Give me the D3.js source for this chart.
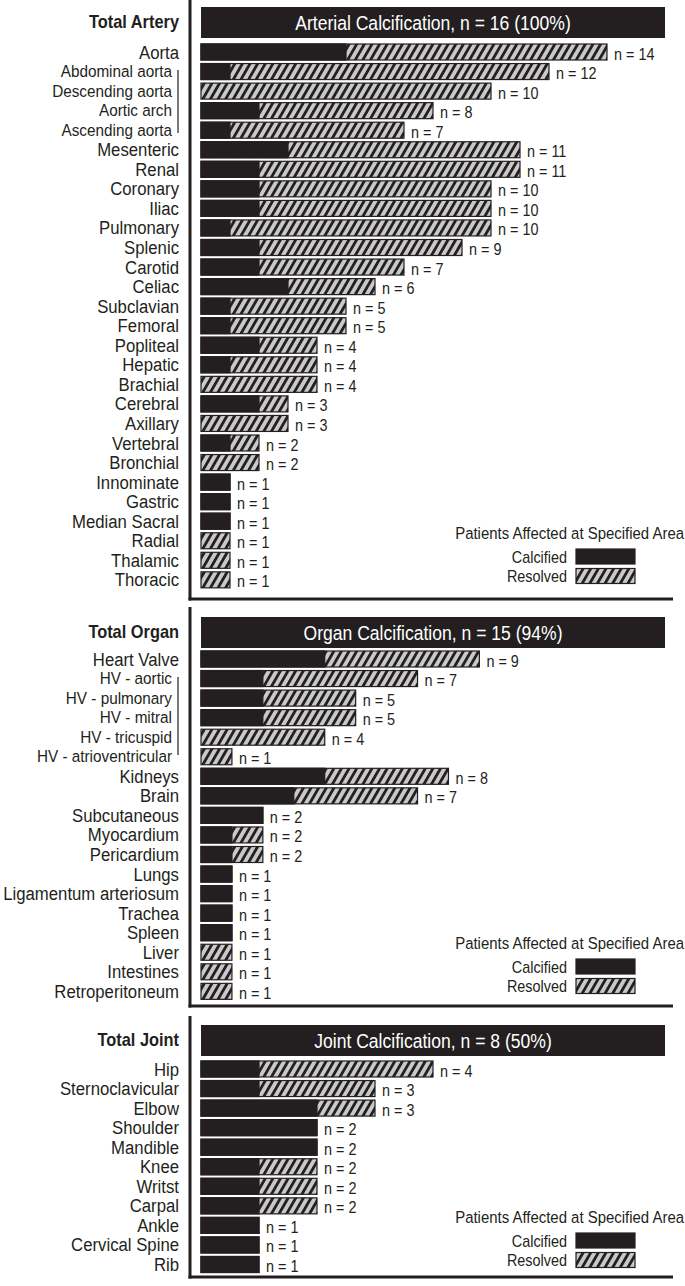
<!DOCTYPE html>
<html>
<head>
<meta charset="utf-8">
<script src="https://cdn.jsdelivr.net/npm/d3@7"></script>
<style>
    body { margin: 0; background: #fff; }
    text { font-family: "Liberation Sans", Arial, Helvetica, sans-serif; fill: #231f20; }
</style>
</head>
<body>
<div id="chart"></div>
<script>
// artery data
var arteryNames = ["Aorta", "Abdominal aorta", "Descending aorta", "Aortic arch", "Ascending aorta",
    "Mesenteric", "Renal", "Coronary", "Iliac", "Pulmonary", "Splenic", "Carotid", "Celiac",
    "Subclavian", "Femoral", "Popliteal", "Hepatic", "Brachial", "Cerebral", "Axillary",
    "Vertebral", "Bronchial", "Innominate", "Gastric", "Median Sacral", "Radial", "Thalamic", "Thoracic"];
var arteryCalcified = [5, 1, 0, 2, 1, 3, 2, 2, 2, 1, 2, 2, 3, 1, 1, 2, 1, 0, 2, 0, 1, 0, 1, 1, 1, 0, 0, 0];
var arteryResolved  = [9, 11, 10, 6, 6, 8, 9, 8, 8, 9, 7, 5, 3, 4, 4, 2, 3, 4, 1, 3, 1, 2, 0, 0, 0, 1, 1, 1];
var arterySub = ["Abdominal aorta", "Descending aorta", "Aortic arch", "Ascending aorta"];

// organ data
var organNames = ["Heart Valve", "HV - aortic", "HV - pulmonary", "HV - mitral", "HV - tricuspid",
    "HV - atrioventricular", "Kidneys", "Brain", "Subcutaneous", "Myocardium", "Pericardium", "Lungs",
    "Ligamentum arteriosum", "Trachea", "Spleen", "Liver", "Intestines", "Retroperitoneum"];
var organCalcified = [4, 2, 2, 2, 0, 0, 4, 3, 2, 1, 1, 1, 1, 1, 1, 0, 0, 0];
var organResolved  = [5, 5, 3, 3, 4, 1, 4, 4, 0, 1, 1, 0, 0, 0, 0, 1, 1, 1];
var organSub = ["HV - aortic", "HV - pulmonary", "HV - mitral", "HV - tricuspid", "HV - atrioventricular"];

// joint data
var jointNames = ["Hip", "Sternoclavicular", "Elbow", "Shoulder", "Mandible", "Knee", "Writst",
    "Carpal", "Ankle", "Cervical Spine", "Rib"];
var jointCalcified = [1, 1, 2, 2, 2, 1, 1, 1, 1, 1, 1];
var jointResolved  = [3, 2, 1, 0, 0, 1, 1, 1, 0, 0, 0];

// section totals
var sectionTitles = ["Total Artery", "Total Organ", "Total Joint"];
var sectionHeaders = ["Arterial Calcification, n = 16 (100%)", "Organ Calcification, n = 15 (94%)", "Joint Calcification, n = 8 (50%)"];
var sectionTotals = [16, 15, 8];

var legendTitle = "Patients Affected at Specified Area";
var legendKeys = ["Calcified", "Resolved"];

var width = 685, height = 1286;
var dark = "#231f20", light = "#c9c9c9";
var x0 = 201, x1 = 665;
var step = 19.55, barH = 16;
var squeeze = 0.9;   // the original type is a bit condensed

var svg = d3.select("#chart")
    .append("svg")
    .attr("width", width)
    .attr("height", height);

// hatch pattern for resolved
var pat = svg.append("defs")
    .append("pattern")
    .attr("id", "hatch")
    .attr("patternUnits", "userSpaceOnUse")
    .attr("width", 6.6)
    .attr("height", 20)
    .attr("patternTransform", "rotate(30)");
pat.append("rect").attr("width", 6.6).attr("height", 20).attr("fill", light);
pat.append("rect").attr("width", 2.8).attr("height", 20).attr("fill", dark);

// condensed text helper
function label(sel, x, y, size) {
    return sel.append("text")
        .attr("transform", "translate(" + x + "," + y + ") scale(" + squeeze + ",1)")
        .style("font-size", size + "px");
}

// layout of each panel
var sections = [
    {names: arteryNames, calc: arteryCalcified, res: arteryResolved, sub: arterySub,
        top: 0, bottom: 599, header: 7, first: 52, bracket: [70, 133], legend: 533},
    {names: organNames, calc: organCalcified, res: organResolved, sub: organSub,
        top: 607, bottom: 1006, header: 617, first: 659, bracket: [677, 755], legend: 943},
    {names: jointNames, calc: jointCalcified, res: jointResolved, sub: [],
        top: 1016, bottom: 1277, header: 1025, first: 1069, bracket: null, legend: 1217}
];

sections.forEach(function(s, k) {
    var g = svg.append("g");
    var x = d3.scaleLinear().domain([0, sectionTotals[k]]).range([x0, x1]);
    var y = d3.scaleLinear().domain([0, s.names.length - 1])
        .range([s.first, s.first + step * (s.names.length - 1)]);

    // frame lines
    g.append("line")
        .attr("x1", 190).attr("x2", 190)
        .attr("y1", s.top).attr("y2", s.bottom + 1.5)
        .style("stroke", dark).style("stroke-width", 3);
    g.append("line")
        .attr("x1", 188.5).attr("x2", 673)
        .attr("y1", s.bottom).attr("y2", s.bottom)
        .style("stroke", dark).style("stroke-width", 3);

    // header
    g.append("rect")
        .attr("x", x(0)).attr("y", s.header)
        .attr("width", x(sectionTotals[k]) - x(0)).attr("height", 31)
        .style("fill", dark);
    label(g, (x0 + x1) / 2, s.header + 23, 19.5)
        .attr("text-anchor", "middle")
        .style("fill", "#fff")
        .text(sectionHeaders[k]);
    label(g, 179, s.header + 20.5, 18.2)
        .attr("text-anchor", "end")
        .style("font-weight", "bold")
        .text(sectionTitles[k]);

    // bracket for sub-categories
    if (s.bracket) {
        g.append("line")
            .attr("x1", 178).attr("x2", 178)
            .attr("y1", s.bracket[0]).attr("y2", s.bracket[1])
            .style("stroke", dark).style("stroke-width", 1.2);
    }

    var rows = g.selectAll("g.row")
        .data(s.names)
        .enter()
        .append("g")
        .attr("class", "row")
        .attr("transform", function(d, i) { return "translate(0," + y(i) + ")"; });

    rows.each(function(d) {
        var isSub = s.sub.indexOf(d) >= 0;
        label(d3.select(this), isSub ? 172 : 179, isSub ? 5.5 : 6.5, isSub ? 17 : 18.6)
            .attr("text-anchor", "end")
            .text(d);
    });

    // whole bar: hatched (resolved), calcified drawn on top
    rows.append("rect")
        .attr("x", x(0))
        .attr("y", -barH / 2)
        .attr("width", function(d, i) { return x(s.calc[i] + s.res[i]) - x(0); })
        .attr("height", barH)
        .style("fill", "url(#hatch)")
        .style("stroke", dark)
        .style("stroke-width", 1.2);
    rows.append("rect")
        .attr("x", x(0))
        .attr("y", -barH / 2)
        .attr("width", function(d, i) { return x(s.calc[i]) - x(0); })
        .attr("height", barH)
        .style("fill", dark)
        .style("stroke", dark)
        .style("stroke-width", function(d, i) { return s.calc[i] ? 1.2 : 0; });

    rows.each(function(d, i) {
        var n = s.calc[i] + s.res[i];
        label(d3.select(this), x(n) + 7, 7.5, 16)
            .text("n = " + n);
    });

    // legend
    var lg = g.append("g").attr("transform", "translate(0," + s.legend + ")");
    label(lg, 684, 5.5, 16.6)
        .attr("text-anchor", "end")
        .text(legendTitle);
    legendKeys.forEach(function(key, j) {
        lg.append("rect")
            .attr("x", 576).attr("y", 16 + j * 19.5)
            .attr("width", 59).attr("height", 15)
            .style("fill", j == 0 ? dark : "url(#hatch)")
            .style("stroke", dark).style("stroke-width", 1.2);
        label(lg, 567, 29.5 + j * 19.5, 16)
            .attr("text-anchor", "end")
            .text(key);
    });
});
</script>
</body>
</html>
